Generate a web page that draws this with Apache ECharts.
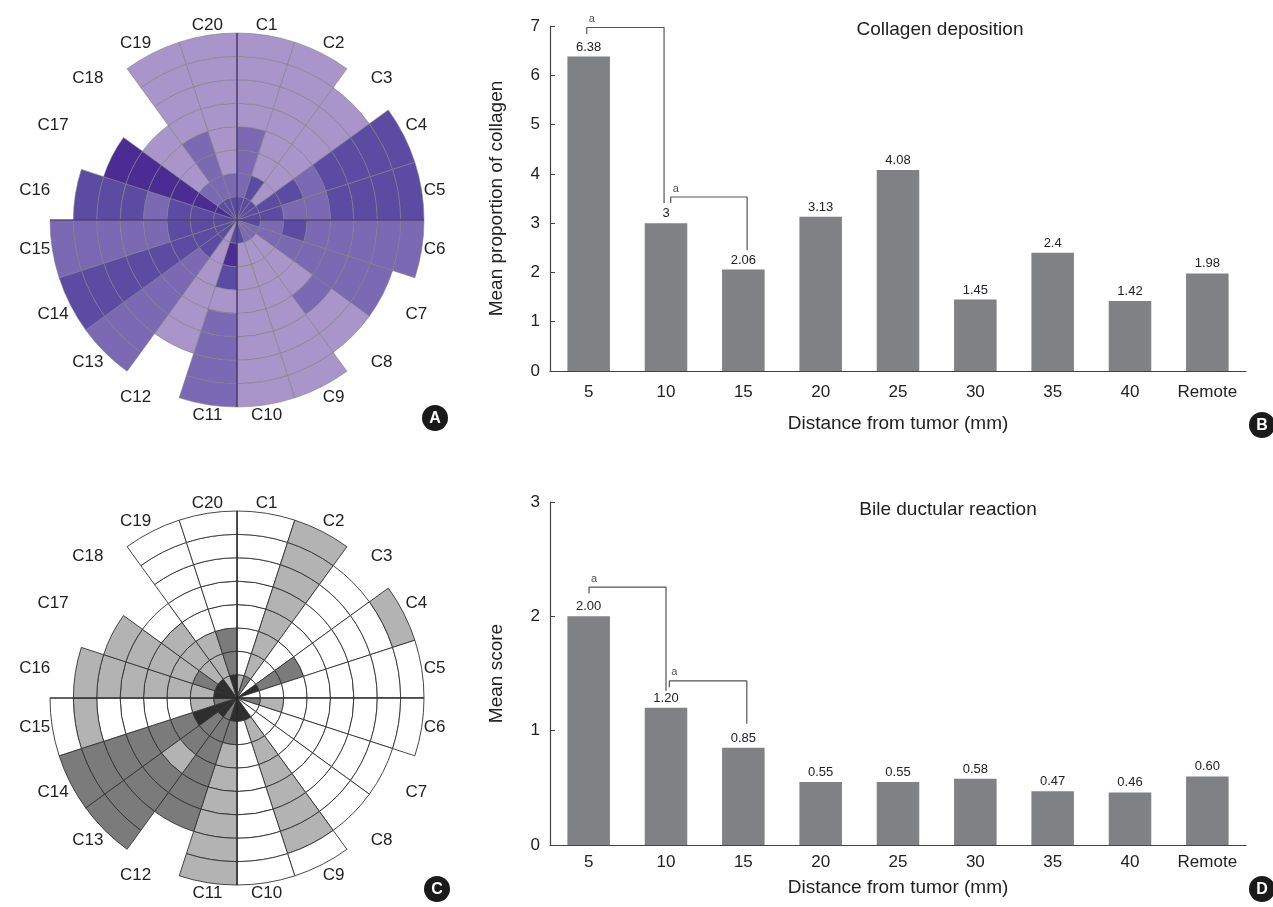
<!DOCTYPE html>
<html><head><meta charset="utf-8">
<script src="https://cdn.jsdelivr.net/npm/echarts/dist/echarts.min.js"></script>
<style>html,body{margin:0;padding:0;background:#fff}#chart{width:1273px;height:907px}</style>
</head><body><div id="chart"></div>
<script>
// ---------- data ----------
const sectors = ['C1','C2','C3','C4','C5','C6','C7','C8','C9','C10','C11','C12','C13','C14','C15','C16','C17','C18','C19','C20'];
// panel A: collagen level per ring (inner -> outer); 0 light, 1 medium, 2 dark, 3 darkest
const levelsA = [
  [2,1,1,1,0,0,0,0], [2,2,0,0,0,0,0,0], [2,0,0,0,0,0,0], [2,2,2,1,2,2,2,2],
  [2,2,1,1,2,2,2,2], [2,1,2,1,1,1,1,1], [1,1,1,1,1,1,1], [1,0,0,0,1,0,0],
  [1,0,0,0,0,0,0,0], [2,0,0,0,0,0,0,0], [2,3,2,0,1,1,1,1], [0,0,0,0,0,0],
  [2,2,1,1,1,1,1,1], [2,2,2,2,2,2,2,2], [2,2,2,1,1,1,1,1], [2,2,2,1,2,2,2],
  [3,3,3,3,3,3], [2,1,0,0,0], [2,1,1,1,0,0,0,0], [2,1,0,0,0,0,0,0]
];
// panel C: ductular reaction score per ring; 0 none, 1 light, 2 dark, 3 black
const levelsC = [
  [1,0,0,0,0,0,0,0], [2,1,1,1,1,1,1,1], [0,0,0,0,0,0,0], [3,2,2,0,0,0,0,1],
  [0,0,0,0,0,0,0,0], [2,1,0,0,0,0,0,0], [0,0,0,0,0,0,0], [0,0,0,0,0,0,0],
  [3,1,1,1,1,1,1,0], [3,0,0,0,0,0,0,0], [3,2,1,1,1,1,1,1], [2,2,2,2,2,2],
  [3,2,2,1,2,2,2,2], [3,3,2,2,2,2,2,2], [2,1,0,0,0,0,1,0], [3,1,1,1,1,1,1],
  [3,2,1,1,1,1], [3,1,1,1,0], [1,1,1,0,0,0,0,0], [3,2,2,0,0,0,0,0]
];
const paletteA = ['#a995c9','#7c69b3','#5b4ba3','#4a2c94'];
const paletteC = ['#ffffff','#b3b3b3','#7b7b7b','#2e2e2e'];

const distances = ['5','10','15','20','25','30','35','40','Remote'];
const collagen = [6.38, 3, 2.06, 3.13, 4.08, 1.45, 2.4, 1.42, 1.98];
const ductular = [2.00, 1.20, 0.85, 0.55, 0.55, 0.58, 0.47, 0.46, 0.60];
const collagenTicks = [0, 7, 1];
const ductularTicks = [0, 3, 1];
const bracketB1 = [[0.475,6.84],[0.475,6.97],[1.475,6.97],[1.475,3.41]];
const bracketB2 = [[1.561,3.41],[1.561,3.53],[2.549,3.53],[2.549,2.45]];
const bracketD1 = [[0.505,2.20],[0.505,2.256],[1.50,2.256],[1.50,1.35]];
const bracketD2 = [[1.543,1.38],[1.543,1.435],[2.545,1.435],[2.545,1.06]];

// ---------- build ----------
const FONT = 'Liberation Sans, Arial, Helvetica, sans-serif';
const chart = echarts.init(document.getElementById('chart'));

function ringSeries(levels, palette, polarIndex, stack, border, bw) {
  const maxRings = Math.max(...levels.map(l => l.length));
  const out = [];
  for (let k = 0; k < maxRings; k++) {
    out.push({
      type: 'bar', coordinateSystem: 'polar', polarIndex, stack,
      barCategoryGap: '0%', barGap: '0%', silent: true, z: 2,
      itemStyle: { borderColor: border, borderWidth: bw },
      data: sectors.map((s, i) => levels[i][k] === undefined ? '-' :
        { value: 1, itemStyle: { color: palette[levels[i][k]] } })
    });
  }
  return out;
}

const polarCenters = [[237, 220], [237, 698]];
const R = 187;

const angleAxes = [], radiusAxes = [], polars = [];
polarCenters.forEach(c => polars.push({ center: c, radius: [0, R] }));
polarCenters.forEach(c => polars.push({ center: c, radius: [0, R] }));
for (let i = 0; i < 2; i++) {
  angleAxes.push({
    polarIndex: i, type: 'category', data: sectors, startAngle: 90, clockwise: true,
    axisLine: { show: false }, axisTick: { show: false }, splitLine: { show: false },
    axisLabel: { color: '#222', fontSize: 17, fontFamily: FONT, margin: 2, interval: 0 }
  });
  radiusAxes.push({ polarIndex: i, type: 'value', min: 0, max: 8, show: false,
    axisLine: { show: false }, axisLabel: { show: false }, splitLine: { show: false }, axisTick: { show: false } });
}
for (let i = 2; i < 4; i++) {
  angleAxes.push({
    polarIndex: i, type: 'value', min: 0, max: 360, interval: 90, startAngle: 90, z: 10,
    axisLine: { show: false }, axisTick: { show: false }, axisLabel: { show: false },
    splitLine: { show: true, lineStyle: { color: i === 2 ? '#3a2a6a' : '#222', width: 1.2 } }
  });
  radiusAxes.push({ polarIndex: i, type: 'value', min: 0, max: 8, show: false,
    axisLine: { show: false }, axisLabel: { show: false }, splitLine: { show: false }, axisTick: { show: false } });
}

const grids = [
  { left: 550, top: 26, width: 696, height: 345 },
  { left: 550, top: 502, width: 696, height: 343 }
];
function catAxis(gi, labelMargin, nameGap) {
  return {
    gridIndex: gi, type: 'category', data: distances,
    axisLine: { lineStyle: { color: '#444', width: 1.2 } },
    axisTick: { inside: true, length: 6, lineStyle: { color: '#444' } },
    axisLabel: { color: '#222', fontSize: 17, fontFamily: FONT, margin: labelMargin, interval: 0 },
    name: 'Distance from tumor (mm)', nameLocation: 'middle', nameGap,
    nameTextStyle: { color: '#222', fontSize: 19, fontFamily: FONT }
  };
}
function hiddenX(gi) {
  return { gridIndex: gi, type: 'value', min: 0, max: 9, show: false };
}
function valAxis(gi, ticks, name) {
  return {
    gridIndex: gi, type: 'value', min: ticks[0], max: ticks[1], interval: ticks[2],
    axisLine: { show: true, lineStyle: { color: '#444', width: 1.2 } },
    axisTick: { show: true, inside: true, length: 5, lineStyle: { color: '#444' } },
    splitLine: { show: false },
    axisLabel: { color: '#222', fontSize: 17, fontFamily: FONT, margin: 10 },
    name, nameLocation: 'middle', nameGap: 44,
    nameTextStyle: { color: '#222', fontSize: 19, fontFamily: FONT }
  };
}

function barSeries(xi, yi, values, fmt) {
  return {
    type: 'bar', xAxisIndex: xi, yAxisIndex: yi, data: values, barWidth: '55%',
    itemStyle: { color: '#808184' }, silent: true,
    label: { show: true, position: 'top', distance: 3, color: '#222', fontSize: 13, fontFamily: FONT,
      formatter: p => fmt(p.value) }
  };
}
function bracket(xi, yi, pts) {
  return {
    type: 'line', xAxisIndex: xi, yAxisIndex: yi, data: pts, symbol: 'none', silent: true,
    lineStyle: { color: '#555', width: 1.2 }, z: 5
  };
}
function bracketLabel(xi, yi, pts) {
  return {
    type: 'scatter', xAxisIndex: xi, yAxisIndex: yi, data: [pts[1]], symbolSize: 0, silent: true,
    label: { show: true, formatter: 'a', position: 'top', offset: [5, 2], color: '#222', fontSize: 11, fontFamily: FONT }
  };
}

function badge(letter, x, y) {
  return {
    type: 'group', x, y, children: [
      { type: 'circle', shape: { cx: 0, cy: 0, r: 13 }, style: { fill: '#1a1a1a' } },
      { type: 'text', x: 0, y: 1, style: { text: letter, fill: '#fff', font: 'bold 16px ' + FONT, textAlign: 'center', textVerticalAlign: 'middle' } }
    ]
  };
}
function titleText(t, x, y) {
  return { type: 'text', x, y, style: { text: t, fill: '#222', font: '19px ' + FONT, textAlign: 'center', textVerticalAlign: 'middle' } };
}

const option = {
  animation: false,
  backgroundColor: '#fff',
  polar: polars,
  angleAxis: angleAxes,
  radiusAxis: radiusAxes,
  grid: grids,
  xAxis: [catAxis(0, 13, 43), hiddenX(0), catAxis(1, 9, 33), hiddenX(1)],
  yAxis: [valAxis(0, collagenTicks, 'Mean proportion of collagen'), valAxis(1, ductularTicks, 'Mean score')],
  series: [
    ...ringSeries(levelsA, paletteA, 0, 'ringsA', '#808080', 0.6),
    ...ringSeries(levelsC, paletteC, 1, 'ringsC', '#333333', 0.9),
    barSeries(0, 0, collagen, v => String(v)),
    barSeries(2, 1, ductular, v => v.toFixed(2)),
    bracket(1, 0, bracketB1), bracket(1, 0, bracketB2),
    bracket(3, 1, bracketD1), bracket(3, 1, bracketD2),
    bracketLabel(1, 0, bracketB1), bracketLabel(1, 0, bracketB2),
    bracketLabel(3, 1, bracketD1), bracketLabel(3, 1, bracketD2)
  ],
  graphic: [
    titleText('Collagen deposition', 940, 30),
    titleText('Bile ductular reaction', 948, 510),
    badge('A', 435, 418), badge('B', 1262, 425), badge('C', 437, 889), badge('D', 1262, 889)
  ]
};
chart.setOption(option);
</script>
</body></html>
